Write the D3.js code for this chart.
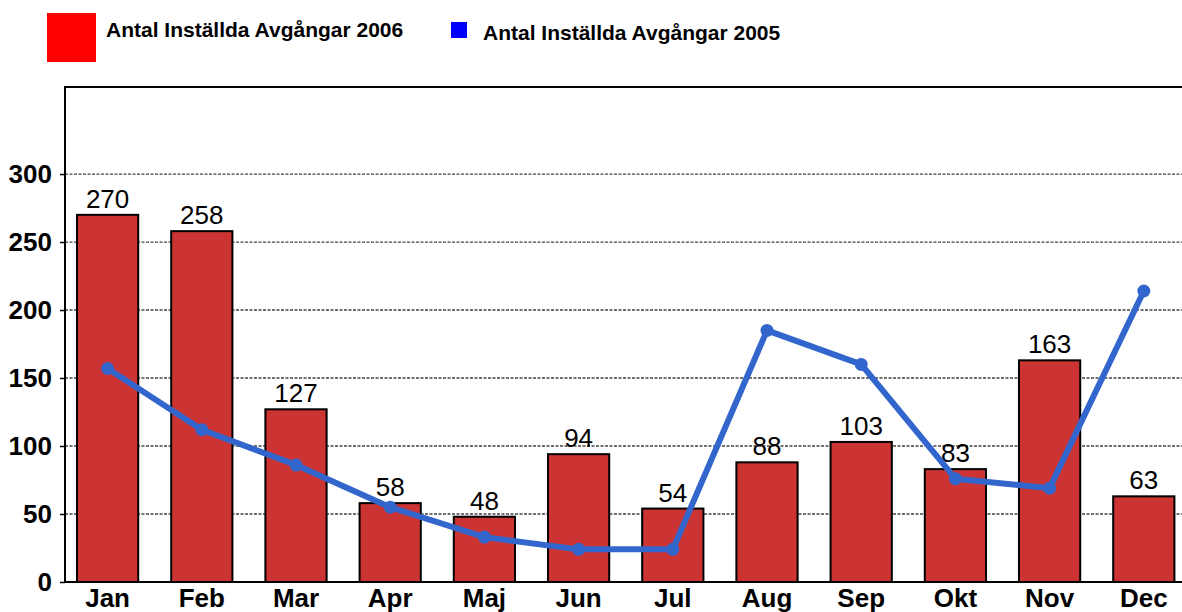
<!DOCTYPE html>
<html lang="sv">
<head>
<meta charset="utf-8">
<title>Antal Inställda Avgångar</title>
<script src="https://d3js.org/d3.v7.min.js"></script>
<style>
  body { margin: 0; background: #fff; }
  text { font-family: "Liberation Sans", Arial, sans-serif; }
</style>
</head>
<body>
<script>
// data
const months = ["Jan","Feb","Mar","Apr","Maj","Jun","Jul","Aug","Sep","Okt","Nov","Dec"];
const values2006 = [270, 258, 127, 58, 48, 94, 54, 88, 103, 83, 163, 63];
const values2005 = [157, 112, 86, 55, 33, 24, 24, 185, 160, 76, 69, 214];
const yTicks = [0, 50, 100, 150, 200, 250, 300];

const W = 1182, H = 612;
const plotLeft = 65, plotTop = 87, plotBottom = 582;

const svg = d3.select("body").append("svg")
    .attr("width", W).attr("height", H);

const x = d3.scaleBand()
    .domain(months)
    .range([60.5, 1190.9])
    .paddingInner(0.35)
    .paddingOuter(0.175);

const y = d3.scaleLinear()
    .domain([0, 364])
    .range([plotBottom, plotTop]);

// gridlines
svg.append("g")
  .selectAll("line")
  .data(yTicks.filter(d => d > 0))
  .join("line")
    .attr("x1", plotLeft).attr("x2", W)
    .attr("y1", d => y(d)).attr("y2", d => y(d))
    .attr("stroke", "#444")
    .attr("stroke-width", 1.3)
    .attr("stroke-dasharray", "3,1.5");

// frame (left + top)
svg.append("path")
    .attr("d", `M${plotLeft},${plotBottom} V${plotTop} H${W + 5}`)
    .attr("fill", "none")
    .attr("stroke", "#000")
    .attr("stroke-width", 2);

// y axis
const yAxis = svg.append("g")
    .attr("transform", `translate(${plotLeft},0)`)
    .call(d3.axisLeft(y).tickValues(yTicks).tickSize(5).tickPadding(8));
yAxis.select(".domain").remove();
yAxis.selectAll("line").attr("stroke", "#000").attr("stroke-width", 1.5);
yAxis.selectAll("text")
    .attr("font-size", 26).attr("font-weight", "bold").attr("fill", "#000")
    .attr("font-family", "Liberation Sans, Arial, sans-serif");

// bars
svg.append("g")
  .selectAll("rect")
  .data(months.map((m, i) => ({ m, v: values2006[i] })))
  .join("rect")
    .attr("x", d => x(d.m))
    .attr("y", d => y(d.v))
    .attr("width", x.bandwidth())
    .attr("height", d => y(0) - y(d.v))
    .attr("fill", "#cc3333")
    .attr("stroke", "#000")
    .attr("stroke-width", 2);

// value labels
svg.append("g")
  .selectAll("text")
  .data(months.map((m, i) => ({ m, v: values2006[i] })))
  .join("text")
    .attr("x", d => x(d.m) + x.bandwidth() / 2)
    .attr("y", d => y(d.v) - 7)
    .attr("text-anchor", "middle")
    .attr("font-size", 26)
    .attr("fill", "#000")
    .text(d => d.v);

// x axis
const xAxis = svg.append("g")
    .attr("transform", `translate(0,${plotBottom})`)
    .call(d3.axisBottom(x).tickSize(0).tickPadding(7));
xAxis.select(".domain").remove();
xAxis.selectAll("text")
    .attr("font-size", 26).attr("font-weight", "bold").attr("fill", "#000")
    .attr("font-family", "Liberation Sans, Arial, sans-serif");
svg.append("line")
    .attr("x1", plotLeft).attr("x2", W)
    .attr("y1", plotBottom).attr("y2", plotBottom)
    .attr("stroke", "#000").attr("stroke-width", 2);

// 2005 line
const pts = months.map((m, i) => ({ m, v: values2005[i] }));
svg.append("path")
    .datum(pts)
    .attr("d", d3.line().x(d => x(d.m) + x.bandwidth() / 2).y(d => y(d.v)))
    .attr("fill", "none")
    .attr("stroke", "#3366cc")
    .attr("stroke-width", 6)
    .attr("stroke-linejoin", "round");
svg.append("g")
  .selectAll("circle")
  .data(pts)
  .join("circle")
    .attr("cx", d => x(d.m) + x.bandwidth() / 2)
    .attr("cy", d => y(d.v))
    .attr("r", 6.5)
    .attr("fill", "#3366cc");

// legend
const legend = svg.append("g");
legend.append("rect").attr("x", 47).attr("y", 13).attr("width", 49).attr("height", 49).attr("fill", "#ff0000");
legend.append("text").attr("x", 106).attr("y", 37)
    .attr("font-size", 21).attr("font-weight", "bold").attr("fill", "#000")
    .text("Antal Inställda Avgångar 2006");
legend.append("rect").attr("x", 451).attr("y", 22).attr("width", 16).attr("height", 16).attr("fill", "#0000ff");
legend.append("text").attr("x", 483).attr("y", 40)
    .attr("font-size", 21).attr("font-weight", "bold").attr("fill", "#000")
    .text("Antal Inställda Avgångar 2005");
</script>
</body>
</html>
